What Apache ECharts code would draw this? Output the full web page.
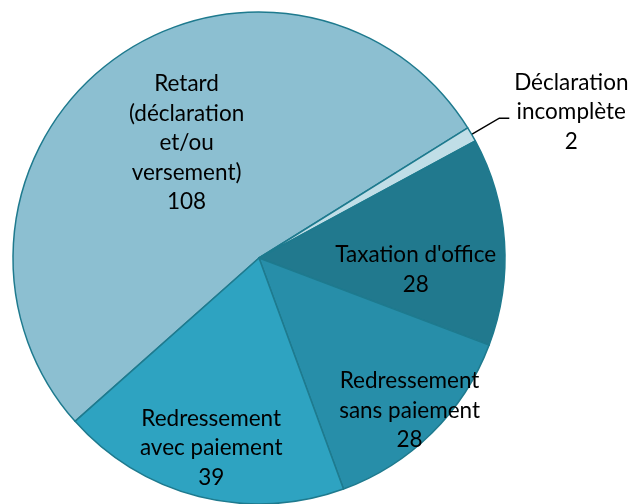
<!DOCTYPE html>
<html>
<head>
<meta charset="utf-8">
<script src="https://cdn.jsdelivr.net/npm/echarts@6/dist/echarts.min.js"></script>
<style>
  html, body { margin: 0; padding: 0; background: #fff; }
  #chart { width: 630px; height: 504px; }
</style>
</head>
<body>
<div id="chart"></div>
<script>
  // categories and values
  var categories = [
    'Retard\n(déclaration\net/ou\nversement)',
    'Déclaration\nincomplète',
    "Taxation d'office",
    'Redressement\nsans paiement',
    'Redressement\navec paiement'
  ]
  var values = [108, 2, 28, 28, 39]
  var colors = ['#8cbfd1', '#c0dee7', '#21798e', '#278ea9', '#2ea3c1']
  // nudges so labels sit where Excel put them
  var labelShift = [[3, -14], [57, -6], [31, 20], [62, 63], [-17, 68]]

  var dom = echarts.init(document.getElementById('chart'))

  var data = values.map(function (v, i) {
    var item = {
      name: categories[i],
      value: v,
      itemStyle: { color: colors[i] }
    }
    if (i === 1) {
      item.label = { position: 'outside', overflow: 'none' }
      item.labelLine = { show: true, length: 32, length2: 10 }
    }
    return item
  })

  var option = {
    animation: false,
    series: [{
      type: 'pie',
      center: [259, 258],
      radius: [0, 246],
      startAngle: 221.6,
      clockwise: true,
      data: data,
      itemStyle: {
        borderColor: '#1e7a8e',
        borderWidth: 1.5
      },
      label: {
        show: true,
        position: 'inside',
        formatter: '{b}\n{c}',
        color: '#000',
        fontFamily: 'Lato',
        fontSize: 22.5,
        lineHeight: 29.5,
        align: 'center',
        overflow: 'none'
      },
      labelLine: {
        lineStyle: { color: '#000', width: 1.5 }
      },
      labelLayout: function (params) {
        var s = labelShift[params.dataIndex]
        if (params.dataIndex === 1) {
          return { align: 'center', dx: s[0], dy: s[1] }
        }
        return { dx: s[0], dy: s[1] }
      },
      emphasis: { disabled: true }
    }]
  }
  dom.setOption(option)
</script>
</body>
</html>
